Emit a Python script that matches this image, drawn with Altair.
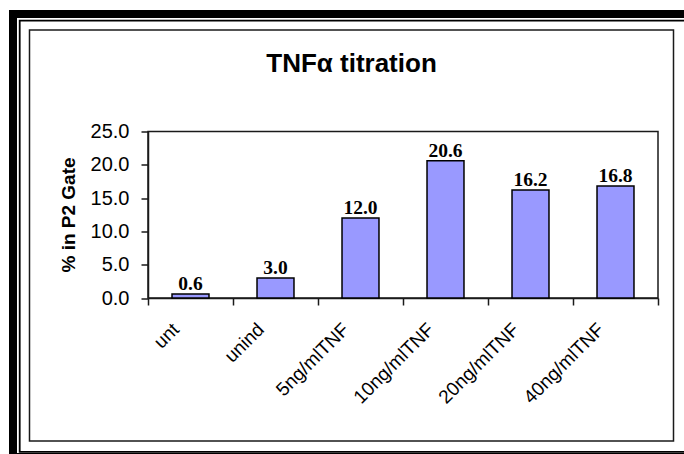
import altair as alt
import pandas as pd

# Percentage of cells in the P2 gate for each TNF-alpha treatment
categories = ["unt", "unind", "5ng/mlTNF", "10ng/mlTNF", "20ng/mlTNF", "40ng/mlTNF"]
values = [0.6, 3.0, 12.0, 20.6, 16.2, 16.8]
y_ticks = [0, 5, 10, 15, 20, 25]
chart_title = "TNFα titration"

df = pd.DataFrame({"treatment": categories, "pct": values})

SANS = "Liberation Sans"
SERIF = "Liberation Serif"
BAR_FILL = "#9999FF"
INK = "#1a1a1a"

x_scale = alt.Scale(domain=categories, paddingInner=0, paddingOuter=0)
y_scale = alt.Scale(domain=[0, 25], nice=False, zero=True)

x_axis = alt.Axis(
    title=None,
    labelAngle=-45,
    labelAlign="right",
    labelBaseline="middle",
    labelFont=SANS,
    labelFontSize=19,
    labelColor="black",
    labelPadding=21,
    labelOffset=-15,
    labelOverlap=False,
    tickBand="extent",
    tickSize=7,
    tickColor=INK,
    tickWidth=1.5,
    domainColor=INK,
    domainWidth=1.5,
    grid=False,
)

y_axis = alt.Axis(
    title="% in P2 Gate",
    titleFont=SANS,
    titleFontSize=19,
    titleFontWeight="bold",
    titleColor="black",
    titleBaseline="alphabetic",
    titleX=-74,
    titleY=83,
    titleAngle=-90,
    values=y_ticks,
    format=".1f",
    labelFont=SANS,
    labelFontSize=20,
    labelColor="black",
    labelPadding=12,
    labelOverlap=False,
    labelFlush=False,
    tickSize=7,
    tickColor=INK,
    tickWidth=1.5,
    domainColor=INK,
    domainWidth=1.5,
    grid=False,
)

x_enc = alt.X("treatment:N", sort=categories, scale=x_scale, axis=x_axis)
y_enc = alt.Y("pct:Q", scale=y_scale, axis=y_axis)

bars = alt.Chart(df).mark_bar(
    fill=BAR_FILL,
    stroke="black",
    strokeWidth=1.5,
    width=alt.RelativeBandSize(0.435),
).encode(x=x_enc, y=y_enc)

labels = alt.Chart(df).mark_text(
    font=SERIF,
    fontSize=19.5,
    fontWeight="bold",
    color="black",
    baseline="alphabetic",
    dy=-4,
).encode(
    x=x_enc,
    y=y_enc,
    text=alt.Text("pct:Q", format=".1f"),
)

# Page-style double frame, chart-area border and the chart title
deco = alt.Data(values=[{}])
title_mark = alt.Chart(deco).mark_text(
    font=SANS, fontSize=26, fontWeight="bold", color="black",
    align="center", baseline="alphabetic", clip=False,
).encode(
    x=alt.value(203.5), y=alt.value(-60), text=alt.value(chart_title)
)
chart_area = alt.Chart(deco).mark_rect(
    fill=None, stroke=INK, strokeWidth=1.5, clip=False
).encode(
    x=alt.value(-118.5), x2=alt.value(525.5),
    y=alt.value(-101.5), y2=alt.value(309.5),
)
thin_frame = alt.Chart(deco).mark_rect(
    fill=None, stroke="black", strokeWidth=1.8, clip=False
).encode(
    x=alt.value(-128.3), x2=alt.value(560),
    y=alt.value(-110.8), y2=alt.value(320.3),
)
thick_left = alt.Chart(deco).mark_rect(fill="black", clip=False).encode(
    x=alt.value(-139), x2=alt.value(-131),
    y=alt.value(-121.5), y2=alt.value(330),
)
thick_top = alt.Chart(deco).mark_rect(fill="black", clip=False).encode(
    x=alt.value(-139), x2=alt.value(560),
    y=alt.value(-121.5), y2=alt.value(-113.5),
)
thick_bottom = alt.Chart(deco).mark_rect(fill="black", clip=False).encode(
    x=alt.value(-139), x2=alt.value(560),
    y=alt.value(321.5), y2=alt.value(330),
)

chart = alt.layer(
    bars, labels, thick_left, thick_top, thick_bottom, thin_frame,
    chart_area, title_mark
).properties(
    width=510,
    height=166.5,
    padding={"left": 148, "top": 131.5, "right": 26, "bottom": 156},
    autosize=alt.AutoSizeParams(type="none"),
    background="white",
).configure_view(
    stroke=INK, strokeWidth=1.5
)

chart.save("out.html", embed_options={"renderer": "svg", "actions": False})
